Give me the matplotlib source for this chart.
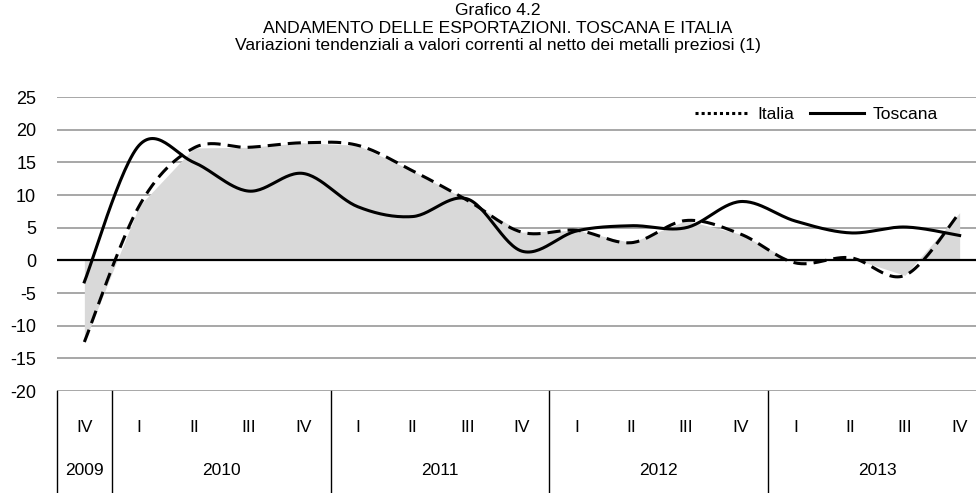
import matplotlib
matplotlib.use("Agg")
import matplotlib.pyplot as plt
from matplotlib.lines import Line2D
import numpy as np

plt.rcParams['font.family'] = ['Liberation Sans', 'DejaVu Sans']
plt.rcParams['axes.unicode_minus'] = False

quarters = ["IV", "I", "II", "III", "IV", "I", "II", "III", "IV",
            "I", "II", "III", "IV", "I", "II", "III", "IV"]
years = ["2009", "2010", "2011", "2012", "2013"]
year_len = [1, 4, 4, 4, 4]

italia = [-12.5, 8.3, 17.2, 17.3, 18.0, 17.6, 13.7, 9.2, 4.3,
          4.6, 2.7, 6.1, 4.0, -0.4, 0.4, -2.3, 7.3]
toscana = [-3.3, 17.6, 15.0, 10.6, 13.3, 8.2, 6.7, 9.4, 1.4,
           4.5, 5.3, 5.0, 9.0, 6.0, 4.2, 5.1, 3.8]

title = ("Grafico 4.2\nANDAMENTO DELLE ESPORTAZIONI. TOSCANA E ITALIA\n"
         "Variazioni tendenziali a valori correnti al netto dei metalli preziosi (1)")


def smooth(x, y, n=30):
    # Bezier segments with Catmull-Rom control points (spreadsheet-style smoothing)
    p = np.column_stack([x, y]).astype(float)
    pp = np.vstack([p[0], p, p[-1]])
    t = np.linspace(0, 1, n)[:, None]
    out = []
    for i in range(len(p) - 1):
        p0, p3 = pp[i + 1], pp[i + 2]
        c1 = p0 + (pp[i + 2] - pp[i]) / 6
        c2 = p3 - (pp[i + 3] - pp[i + 1]) / 6
        seg = ((1 - t) ** 3) * p0 + 3 * ((1 - t) ** 2) * t * c1 + 3 * (1 - t) * t ** 2 * c2 + t ** 3 * p3
        out.append(seg if i == 0 else seg[1:])
    s = np.vstack(out)
    return s[:, 0], s[:, 1]


fig = plt.figure(figsize=(9.76, 4.93), dpi=100)
ax = fig.add_axes([57 / 976, 102 / 493, 930 / 976, 294 / 493])

xs = np.arange(len(quarters)) + 0.5
ax.set_xlim(0, len(quarters))
ax.set_ylim(-20, 25)

for v in range(-20, 26, 5):
    if v != 0:
        ax.axhline(v, color="#a0a0a0", lw=1.3, zorder=1)
ax.fill_between(xs, italia, 0, color="#d9d9d9", lw=0, zorder=2)
ax.axhline(0, color="black", lw=1.6, zorder=3)

sx, sy = smooth(xs, italia)
ax.plot(sx, sy, color="black", lw=2.2, ls=(0, (4.3, 2.3)), zorder=4)
sx, sy = smooth(xs, toscana)
ax.plot(sx, sy, color="black", lw=2.2, zorder=5)

for s in ax.spines.values():
    s.set_visible(False)
ax.set_xticks([])
ax.set_yticks(range(-20, 26, 5))
ax.tick_params(axis="y", length=0, pad=15, labelsize=13)

# category table under the plot
bottom = -102 / 294
trans = ax.get_xaxis_transform()
for x, q in zip(xs, quarters):
    ax.text(x, -0.125, q, transform=trans, ha="center", va="center", fontsize=12.5)
edges = np.concatenate([[0], np.cumsum(year_len)])
for e in edges[:-1]:
    ax.plot([e, e], [0, bottom], transform=trans, color="black", lw=1, clip_on=False)
for y, a, b in zip(years, edges[:-1], edges[1:]):
    ax.text((a + b) / 2, -0.27, y, transform=trans, ha="center", va="center", fontsize=12.5)

handles = [Line2D([], [], color="black", lw=2.2, ls=(0, (1, 1))),
           Line2D([], [], color="black", lw=2.2)]
fig.legend(handles, ["Italia", "Toscana"], ncol=2, frameon=False, fontsize=12.5,
           loc="center right", bbox_to_anchor=(0.977, 0.767),
           handlelength=3.1, handletextpad=0.5, columnspacing=0.9)

fig.text(0.51, 0.993, title, ha="center", va="top", fontsize=12.6, linespacing=1.2)

fig.savefig("out.png", dpi=100)
